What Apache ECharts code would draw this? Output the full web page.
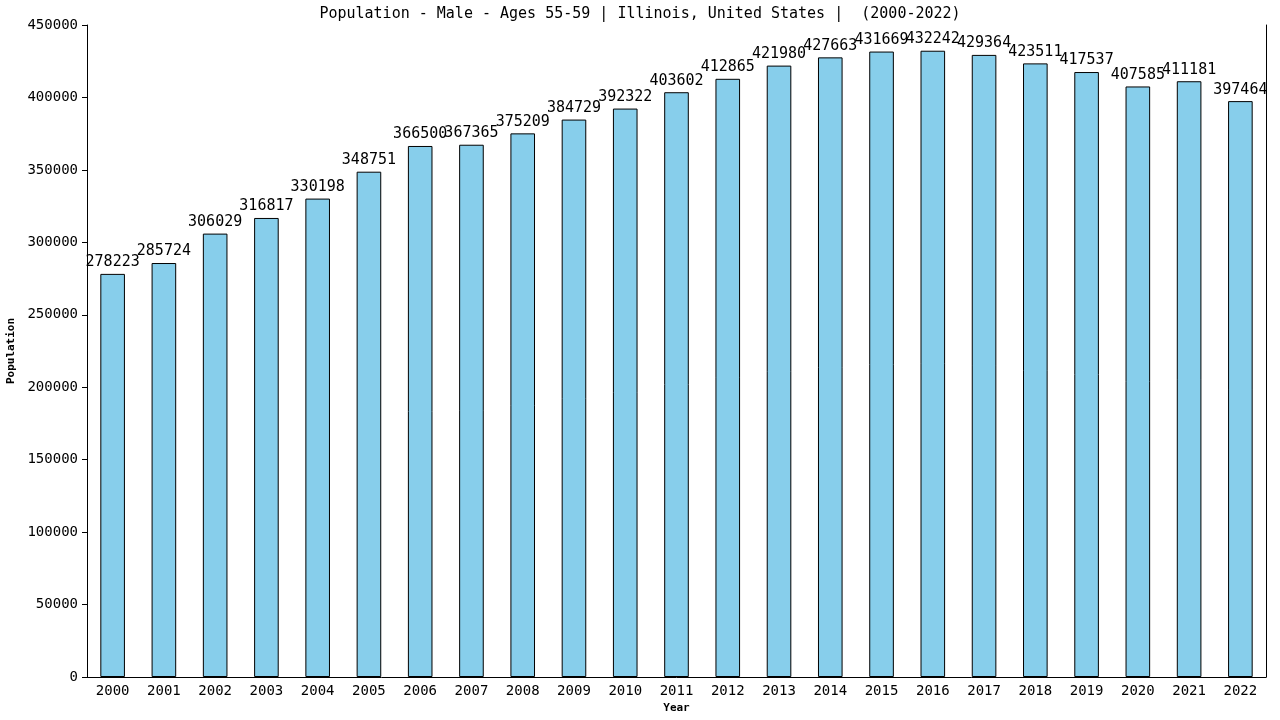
<!DOCTYPE html>
<html>
<head>
<meta charset="utf-8">
<script src="https://cdn.jsdelivr.net/npm/echarts@6/dist/echarts.min.js"></script>
<style>
    html, body { margin: 0; padding: 0; background: #fff; }
    #chart { width: 1280px; height: 720px; }
</style>
</head>
<body>
<div id="chart"></div>
<script>
const years = ["2000", "2001", "2002", "2003", "2004", "2005", "2006", "2007", "2008", "2009", "2010", "2011",
    "2012", "2013", "2014", "2015", "2016", "2017", "2018", "2019", "2020", "2021", "2022"]
const population = [278223, 285724, 306029, 316817, 330198, 348751, 366500, 367365, 375209, 384729, 392322, 403602,
    412865, 421980, 427663, 431669, 432242, 429364, 423511, 417537, 407585, 411181, 397464]
const titleText = "Population - Male - Ages 55-59 | Illinois, United States |  (2000-2022)"

const mono = "DejaVu Sans Mono"
const chart = echarts.init(document.getElementById("chart"))

chart.setOption({
    animation: false,
    backgroundColor: "#fff",
    title: {
        text: titleText,
        left: "center",
        top: 2,
        textStyle: { fontFamily: mono, fontSize: 15, fontWeight: "normal", color: "#000" },
    },
    grid: { left: 87, right: 14, top: 25, bottom: 43, containLabel: false, outerBoundsMode: "none" },
    xAxis: {
        type: "category",
        data: years,
        name: "Year",
        nameLocation: "middle",
        nameGap: 26,
        nameTextStyle: { fontFamily: mono, fontSize: 11, fontWeight: "bold", color: "#000" },
        axisLine: { lineStyle: { color: "#000", width: 1 } },
        axisTick: { show: false },
        axisLabel: { fontFamily: mono, fontSize: 14, color: "#000", margin: 7, interval: 0 },
    },
    yAxis: [
        {
            type: "value",
            min: 0,
            max: 450000,
            interval: 50000,
            name: "Population",
            nameLocation: "middle",
            nameGap: 70,
            nameTextStyle: { fontFamily: mono, fontSize: 11, fontWeight: "bold", color: "#000" },
            axisLine: { show: true, lineStyle: { color: "#000", width: 1 } },
            axisTick: { show: true, length: 5, lineStyle: { color: "#000" } },
            axisLabel: { fontFamily: mono, fontSize: 14, color: "#000", margin: 9, formatter: v => String(v) },
            splitLine: { show: false },
        },
        {
            // right border line only
            type: "value",
            min: 0,
            max: 450000,
            position: "right",
            axisLine: { show: true, lineStyle: { color: "#000", width: 1 } },
            axisTick: { show: false },
            axisLabel: { show: false },
            splitLine: { show: false },
        },
    ],
    series: [
        {
            type: "bar",
            data: population,
            barWidth: "48%",
            itemStyle: { color: "#87CEEB", borderColor: "#000", borderWidth: 1 },
            label: {
                show: true,
                position: "top",
                distance: 4,
                fontFamily: mono,
                fontSize: 15,
                color: "#000",
            },
        },
    ],
})
</script>
</body>
</html>
